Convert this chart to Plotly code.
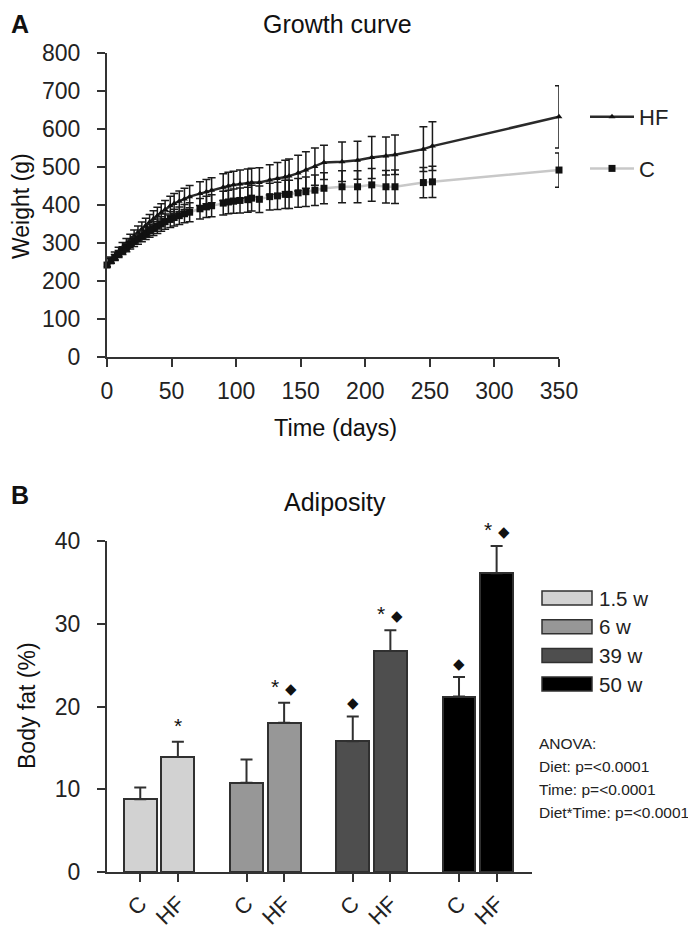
import plotly.graph_objects as go

# ---------------- Data: growth curve (panel A) ----------------
days = [0, 3, 6, 9, 12, 15, 18, 21, 24, 27, 30, 33, 36, 39, 42, 45, 49, 52, 56, 60, 64,
        72, 77, 81, 90, 94, 98, 103, 109, 112, 118, 126, 132, 138, 141, 148, 154, 161,
        168, 182, 194, 205, 216, 223, 245, 252, 350]
hf_mean = [242, 255, 266, 277, 288, 298, 308, 318, 328, 337, 346, 355, 364, 372, 380, 388,
           398, 404, 410, 416, 422, 430, 435, 439, 447, 450, 453, 455, 457, 459, 459, 466,
           470, 474, 476, 484, 492, 501, 512, 514, 518, 525, 529, 532, 547, 555, 632]
hf_sd = [5, 8, 10, 12, 13, 14, 15, 16, 17, 18, 19, 20, 21, 22, 23, 24, 25, 26, 27, 28, 29,
         31, 32, 33, 35, 36, 36, 37, 38, 38, 39, 40, 42, 44, 45, 47, 48, 49, 45, 52, 50,
         55, 50, 52, 59, 64, 82]
c_mean = [242, 253, 262, 271, 280, 288, 296, 304, 311, 318, 325, 332, 338, 344, 350, 356,
          362, 367, 372, 377, 381, 390, 395, 398, 405, 408, 410, 412, 414, 418, 415, 422,
          424, 428, 428, 432, 435, 439, 444, 448, 448, 453, 448, 448, 459, 461, 492]
c_sd = [4, 6, 8, 9, 10, 11, 12, 13, 14, 15, 16, 17, 18, 19, 19, 20, 21, 22, 23, 24, 25,
        27, 28, 29, 31, 31, 32, 33, 33, 34, 35, 35, 36, 37, 37, 38, 39, 40, 41, 42, 42,
        43, 43, 44, 40, 41, 45]

# ---------------- Data: adiposity (panel B) ----------------
groups = ["1.5 w", "6 w", "39 w", "50 w"]
diets = ["C", "HF"]
c_fat = [8.8, 10.8, 15.8, 21.2]
c_fat_err = [1.4, 2.8, 3.0, 2.35]
hf_fat = [13.9, 18.05, 26.7, 36.1]
hf_fat_err = [1.85, 2.4, 2.5, 3.3]
c_sig = ["", "", "◆", "◆"]
hf_sig = ["*", "* ◆", "* ◆", "* ◆"]
group_colors = ["#d2d2d2", "#979797", "#4e4e4e", "#000000"]
anova_lines = ["ANOVA:", "Diet: p=<0.0001", "Time: p=<0.0001", "Diet*Time: p=<0.0001"]

# The page body has an 8px default margin, so the figure is sized to fit the
# 696x928 window and window-pixel positions are converted with that offset.
OFF = 8
W, H = 696 - OFF, 928 - OFF
FONT = "Liberation Sans, Arial, sans-serif"


def px(x):
    return (x - OFF) / W


def py(y):
    return 1 - (y - OFF) / H


fig = go.Figure()

# Growth curves
fig.add_trace(go.Scatter(
    x=days, y=hf_mean, name="HF", mode="lines+markers", legendgroup="hf",
    line=dict(color="#2a2a2a", width=2.5),
    marker=dict(symbol="triangle-up", size=6, color="#111"),
    error_y=dict(type="data", array=hf_sd, color="#1a1a1a", thickness=1.5, width=4),
    cliponaxis=False, xaxis="x", yaxis="y"))
fig.add_trace(go.Scatter(
    x=days, y=c_mean, name="C", mode="lines+markers", legendgroup="c",
    line=dict(color="#c8c8c8", width=2.5),
    marker=dict(symbol="square", size=7, color="#111"),
    error_y=dict(type="data", array=c_sd, color="#1a1a1a", thickness=1.5, width=4),
    cliponaxis=False, xaxis="x", yaxis="y"))

# Adiposity bars: one trace per time point, C and HF side by side
off = 0.177
tickvals, ticktext = [], []
for g, grp in enumerate(groups):
    xs = [g - off, g + off]
    tickvals += xs
    ticktext += diets
    fig.add_trace(go.Bar(
        x=xs, y=[c_fat[g], hf_fat[g]], width=0.31, name=grp, showlegend=False,
        marker=dict(color=group_colors[g], line=dict(color="#303030", width=2)),
        error_y=dict(type="data", symmetric=False, array=[c_fat_err[g], hf_fat_err[g]],
                     arrayminus=[0, 0], color="#303030", thickness=2, width=6),
        xaxis="x2", yaxis="y2"))
    for xv, val, err, s in [(xs[0], c_fat[g], c_fat_err[g], c_sig[g]),
                            (xs[1], hf_fat[g], hf_fat_err[g], hf_sig[g])]:
        if s:
            txt = s.replace("◆", "<span style='font-size:15px'>◆</span>")
            fig.add_annotation(x=xv, y=val + err, xref="x2", yref="y2", text=txt,
                               showarrow=False, yanchor="bottom", yshift=3,
                               font=dict(size=21, color="#111", family=FONT))

axis_common = dict(showline=True, linecolor="#333", linewidth=2, ticks="outside",
                   ticklen=8, tickwidth=2, tickcolor="#333", showgrid=False,
                   zeroline=False, automargin=False,
                   tickfont=dict(size=23, color="#222", family=FONT))

fig.update_layout(
    width=W, height=H, margin=dict(l=0, r=0, t=0, b=0),
    paper_bgcolor="white", plot_bgcolor="white",
    font=dict(family=FONT, color="#222"),
    xaxis=dict(domain=[px(107), px(559)], range=[0, 350], tickvals=list(range(0, 351, 50)),
               anchor="y", ticklabelstandoff=4, **axis_common),
    yaxis=dict(domain=[py(357), py(53)], range=[0, 800], tickvals=list(range(0, 801, 100)),
               anchor="x", ticklabelstandoff=12, **axis_common),
    xaxis2=dict(domain=[px(107), px(532)], range=[-0.49, 3.51], tickvals=tickvals,
                ticktext=ticktext, tickangle=-45, anchor="y2", **axis_common),
    yaxis2=dict(domain=[py(872), py(541)], range=[0, 40], tickvals=[0, 10, 20, 30, 40],
                anchor="x2", ticklabelstandoff=12, **axis_common),
    legend=dict(x=px(585), y=py(96), xanchor="left", yanchor="top",
                font=dict(size=22, color="#222", family=FONT),
                bgcolor="rgba(0,0,0,0)", tracegroupgap=20, itemwidth=44),
    bargap=0,
)
fig.update_xaxes(selector=dict(anchor="y2"), tickfont=dict(size=22))

# Titles, panel letters, axis titles
texts = [
    ("A", 9, 24, 25, True, 0, "left"),
    ("B", 9, 495, 25, True, 0, "left"),
    ("Growth curve", 337, 24, 25, False, 0, "center"),
    ("Adiposity", 335, 502, 25, False, 0, "center"),
    ("Time (days)", 335, 428, 23.5, False, 0, "center"),
    ("Weight (g)", 21, 206, 23, False, -90, "center"),
    ("Body fat (%)", 27, 706, 23, False, -90, "center"),
]
for t, x, y, s, bold, ang, xa in texts:
    fig.add_annotation(x=px(x), y=py(y), xref="paper", yref="paper",
                       text=f"<b>{t}</b>" if bold else t, showarrow=False,
                       xanchor=xa, yanchor="middle", textangle=ang,
                       font=dict(size=s, color="#111", family=FONT))

# Bottom legend (swatches + labels)
for i, grp in enumerate(groups):
    yc = 598 + i * 28.7
    fig.add_shape(type="rect", xref="paper", yref="paper",
                  x0=px(542), x1=px(592), y0=py(yc + 7), y1=py(yc - 7),
                  fillcolor=group_colors[i], line=dict(color="#303030", width=1.5))
    fig.add_annotation(x=px(597), y=py(yc), xref="paper", yref="paper", text=grp,
                       showarrow=False, xanchor="left", yanchor="middle",
                       font=dict(size=20.5, color="#222", family=FONT))

# ANOVA text
for i, line in enumerate(anova_lines):
    fig.add_annotation(x=px(537), y=py(743 + i * 23.3), xref="paper", yref="paper",
                       text=line, showarrow=False, xanchor="left", yanchor="middle",
                       font=dict(size=15.5, color="#222", family=FONT))

fig.write_html("out.html")
